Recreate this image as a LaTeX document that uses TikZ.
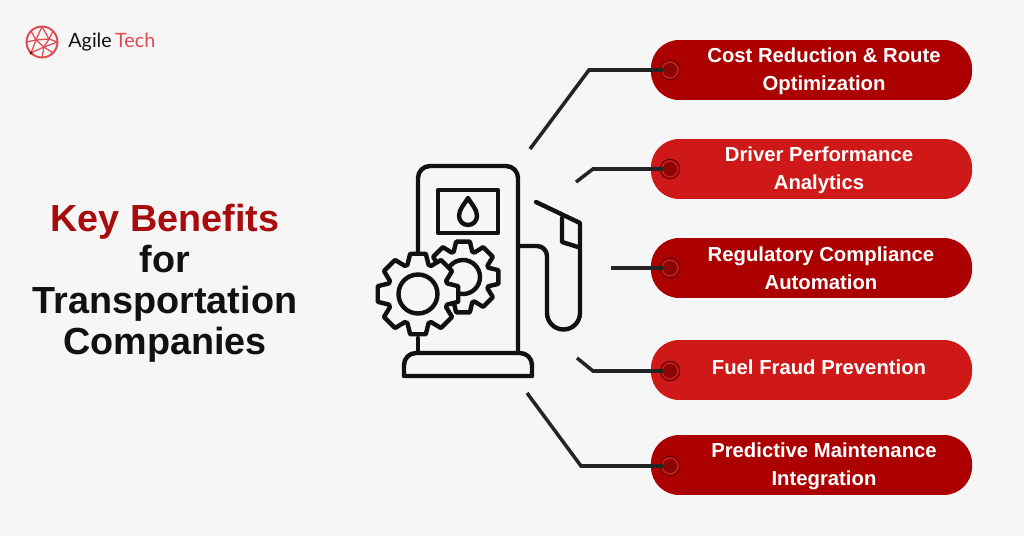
\documentclass[tikz,border=0pt]{standalone}
\usepackage{fontspec}
\setmainfont{Liberation Sans}
\newfontfamily\logofont{Lato}
\definecolor{pagegray}{HTML}{F6F6F6}
\definecolor{pilldark}{HTML}{AC0000}
\definecolor{pilllight}{HTML}{CF1919}
\definecolor{dotred}{HTML}{8A0606}
\definecolor{titlered}{HTML}{A80C0C}
\definecolor{inkblack}{HTML}{111111}
\definecolor{wirecol}{HTML}{242424}
\definecolor{logored}{HTML}{DE4A50}
\tikzset{
  pillbox/.style={rounded corners=16pt, minimum width=182pt, minimum height=34pt, inner sep=0pt},
  pilltext/.style={align=center, text=white, font=\fontsize{11.5}{15.9}\selectfont\bfseries},
  titletext/.style={align=center, text=inkblack, font=\fontsize{21.4}{23.2}\selectfont\bfseries},
  dotmark/.style={circle, draw=dotred!60!black, line width=0.6pt, fill=pilllight, minimum size=11pt, inner sep=0pt, path picture={\fill[dotred] (path picture bounding box.center) circle (4pt);}},
  wire/.style={draw=wirecol, line width=2pt, shorten <=4pt},
  iconline/.style={draw=inkblack, line width=2.5pt, line join=round, line cap=round},
}
\newcommand{\gearpath}[4]{% centre, root radius, tip radius, half angle
  \begin{scope}[shift={#1}]
    \draw[iconline, fill=pagegray] (-20:#2) \foreach \a in {0,45,...,315} {
      -- (\a-20:#2) -- (\a-#4:#3) -- (\a+#4:#3) -- (\a+20:#2)
    } -- cycle;
  \end{scope}
}
\begin{document}
\begin{tikzpicture}[x=0.5669pt,y=-0.5669pt]
  \useasboundingbox (0,0) rectangle (1024,536);
  \fill[pagegray] (0,0) rectangle (1024,536);

  % Logo
  \begin{scope}[shift={(42,42)}, draw=logored, line width=0.7pt]
    \draw[line width=1.1pt] (0,0) circle (15.5);
    \coordinate (meshA) at (-6,-2);
    \coordinate (meshB) at (7,-3);
    \coordinate (meshC) at (2,5);
    \draw (meshA) -- (meshB) -- (meshC) -- cycle;
    \foreach \a/\m in {-90/meshA, -135/meshA, 180/meshA, 135/meshA, -90/meshB, -45/meshB, 0/meshB, 0/meshC, 45/meshC, 90/meshC, 135/meshC}
      \draw (\a:15.5) -- (\m);
    \fill[dotred] (135:15.5) circle (1.6);
  \end{scope}
  \node[anchor=west, inner sep=0pt, font=\fontsize{11.2}{13}\logofont] (logotext) at (68,42.5) {\textcolor{inkblack}{Agile}\,\textcolor{logored}{Tech}};

  % Title
  \node[titletext] (title) at (165,283.5) {\textcolor{titlered}{Key Benefits}\\for\\Transportation\\Companies};

  % Pills
  \node[pillbox, fill=pilldark] (costpill) at (811.5,70) {};
  \node[pillbox, fill=pilllight] (driverpill) at (811.5,169) {};
  \node[pillbox, fill=pilldark] (regpill) at (811.5,268) {};
  \node[pillbox, fill=pilllight] (fuelpill) at (811.5,370) {};
  \node[pillbox, fill=pilldark] (maintpill) at (811.5,465) {};

  % Labels
  \node[pilltext] (costtext) at (824,71) {Cost Reduction \& Route\\Optimization};
  \node[pilltext] (drivertext) at (819,170) {Driver Performance\\Analytics};
  \node[pilltext] (regtext) at (821,268) {Regulatory Compliance\\Automation};
  \node[pilltext] (fueltext) at (819,367) {Fuel Fraud Prevention};
  \node[pilltext] (mainttext) at (824,466) {Predictive Maintenance\\Integration};

  % Dots
  \node[dotmark] (costdot) at (670,70) {};
  \node[dotmark] (driverdot) at (670,169) {};
  \node[dotmark] (regdot) at (670,268) {};
  \node[dotmark] (fueldot) at (670,371) {};
  \node[dotmark] (maintdot) at (670,466) {};

  % Connectors
  \coordinate (costend) at (530,149);
  \coordinate (driverend) at (576,182);
  \coordinate (regend) at (611,268);
  \coordinate (fuelend) at (577,358);
  \coordinate (maintend) at (527,393);
  \draw[wire] (costdot.center) -- (589,70) -- (costend);
  \draw[wire] (driverdot.center) -- (593,169) -- (driverend);
  \draw[wire] (regdot.center) -- (regend);
  \draw[wire] (fueldot.center) -- (593,371) -- (fuelend);
  \draw[wire] (maintdot.center) -- (581,466) -- (maintend);

  % Pump body
  \draw[iconline] (418,252) -- (418,178) arc (180:270:12) -- (506,166) arc (270:360:12) -- (518,352);
  \draw[iconline] (418,338) -- (418,353);
  \draw[iconline] (404,376) -- (404,365) arc (180:270:12) -- (520,353) arc (270:360:12) -- (532,376) -- cycle;

  % Screen and drop
  \draw[iconline] (438,190) rectangle (498,233);
  \draw[iconline] (468,198) .. controls (464,205) and (459,209) .. (459,216) arc (180:0:9) .. controls (477,209) and (472,205) .. (468,198) -- cycle;

  % Hose and nozzle
  \draw[iconline] (518,246) -- (537,246) arc (-90:0:10) -- (547,313) arc (180:0:16.5) -- (580,223) -- (536,202);
  \draw[iconline] (562,218) -- (562,242) -- (578,247);

  % Gears
  \gearpath{(463,277)}{27}{36}{11}
  \draw[iconline] (463,277) circle (17);
  \gearpath{(418,294)}{31}{41}{11}
  \draw[iconline] (418,294) circle (19.5);
\end{tikzpicture}
\end{document}
